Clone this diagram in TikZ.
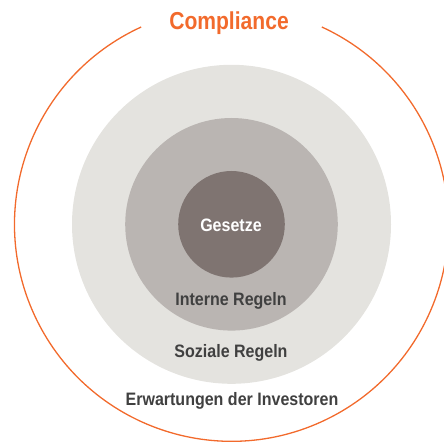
\documentclass[tikz,border=0pt]{standalone}
\usepackage{fontspec}
\setmainfont{Liberation Sans}[FakeStretch=0.89]
\newfontfamily\titlefont{Liberation Sans}[FakeStretch=0.86]
\usepackage{xcolor}
\usepackage{tikz}

\definecolor{orangeline}{HTML}{F26A2C}
\definecolor{ringlight}{HTML}{E4E3DF}
\definecolor{ringmid}{HTML}{BAB5B2}
\definecolor{ringdark}{HTML}{7F7471}
\definecolor{labelgray}{HTML}{404040}

\tikzset{
    ringlabel/.style={anchor=base, inner sep=0pt, text=labelgray,
        font=\fontsize{18}{20}\selectfont\bfseries}
}

\begin{document}
\begin{tikzpicture}[x=1pt, y=1pt]
		\useasboundingbox (0, 0) rectangle (444, 442);
		\coordinate (C) at (231.5, 217.7);
		% rings
		\fill [ringlight] (C) circle [radius=159.5];
		\fill [ringmid] (C) circle [radius=106.3];
		\fill [ringdark] (C) circle [radius=53.3];
		% compliance
		\draw [orangeline, line width=1.3pt] (C) ++(114.6:217) arc [start angle=114.6, end angle=425.4, radius=217];
        \node[anchor=base, inner sep=0pt, text=orangeline, font=\titlefont\fontsize{24.5}{27}\selectfont\bfseries] (compliance) at (229, 412.7) {Compliance};
        \node[ringlabel, text=white] (gesetze) at (231, 210.3) {Gesetze};
        \node[ringlabel] (intern) at (231, 137) {Interne Regeln};
        \node[ringlabel] (sozial) at (231, 84.5) {Soziale Regeln};
        \node[ringlabel] (investor) at (232, 37) {Erwartungen der Investoren};
	\end{tikzpicture}
\end{document}
